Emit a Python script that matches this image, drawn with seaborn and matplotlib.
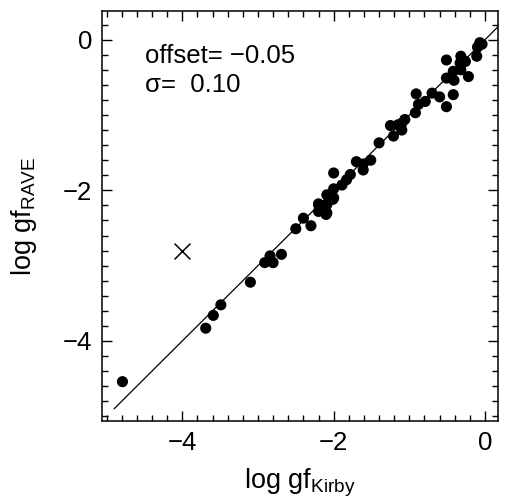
import numpy as np
import pandas as pd
import matplotlib
matplotlib.use("Agg")
import matplotlib.pyplot as plt
import seaborn as sns
from matplotlib.ticker import MultipleLocator

# log gf values
log_gf_kirby = [-0.07, -0.04, -0.10, -0.51, -0.32, -0.26, -0.33, -0.11, -0.42, -0.32,
                -0.51, -0.41, -0.22, -0.42, -0.51, -0.70, -0.60, -0.91, -0.79, -0.88,
                -0.92, -1.06, -1.10, -1.15, -1.25, -1.10, -1.21, -1.40, -1.51, -1.61,
                -1.61, -1.70, -2.00, -1.78, -1.83, -1.89, -2.00, -2.00, -2.09, -2.20,
                -2.18, -2.09, -2.40, -2.20, -2.09, -2.20, -2.10, -2.01, -2.50, -2.30,
                -2.84, -2.91, -2.80, -2.69, -3.10, -3.49, -3.59, -3.69, -4.79]
log_gf_rave = [-0.04, -0.06, -0.10, -0.27, -0.22, -0.29, -0.31, -0.22, -0.42, -0.40,
               -0.51, -0.54, -0.49, -0.73, -0.89, -0.71, -0.76, -0.72, -0.82, -0.86,
               -0.97, -1.06, -1.11, -1.13, -1.14, -1.20, -1.28, -1.37, -1.60, -1.65,
               -1.73, -1.62, -1.77, -1.79, -1.86, -1.93, -1.98, -2.10, -2.06, -2.18,
               -2.24, -2.30, -2.37, -2.19, -2.19, -2.28, -2.32, -2.12, -2.51, -2.47,
               -2.87, -2.96, -2.96, -2.85, -3.22, -3.52, -3.66, -3.83, -4.54]

# rejected line
reject_kirby = [-4.00]
reject_rave = [-2.80]

offset = -0.05
sigma = 0.10

sns.set_style("ticks")
plt.rcParams["font.family"] = ["Liberation Sans", "DejaVu Sans"]
plt.rcParams["mathtext.fontset"] = "custom"
plt.rcParams["mathtext.rm"] = "Liberation Sans"
plt.rcParams["xtick.direction"] = "in"
plt.rcParams["ytick.direction"] = "in"
for key in ["text.color", "axes.labelcolor", "xtick.color", "ytick.color",
            "xtick.labelcolor", "ytick.labelcolor"]:
    plt.rcParams[key] = "black"

fs = 18.5

df = pd.DataFrame({"kirby": log_gf_kirby, "rave": log_gf_rave})

fig = plt.figure(figsize=(5.05, 5.01), dpi=100)
ax = fig.add_axes([0.202, 0.160, 0.784, 0.818])

one_to_one = np.array([-4.9, 0.4])
ax.plot(one_to_one, one_to_one, color="black", lw=0.9, zorder=1)

sns.scatterplot(data=df, x="kirby", y="rave", ax=ax, color="black", s=64,
                edgecolor="none", zorder=3)
ax.scatter(reject_kirby, reject_rave, marker="x", s=130, color="black",
           linewidths=1.1, zorder=3)

ax.set_xlim(-5.06, 0.17)
ax.set_ylim(-5.06, 0.38)
ax.xaxis.set_major_locator(MultipleLocator(2))
ax.xaxis.set_minor_locator(MultipleLocator(0.2))
ax.yaxis.set_major_locator(MultipleLocator(2))
ax.yaxis.set_minor_locator(MultipleLocator(0.2))
ax.tick_params(which="both", direction="in", top=True, right=True,
               width=1, color="black")
ax.tick_params(which="major", length=7.5, labelsize=fs, pad=7)
ax.tick_params(which="minor", length=4)
for sp in ax.spines.values():
    sp.set_linewidth(1.1)
    sp.set_color("black")

ax.set_xlabel(r"log gf$_{\mathregular{Kirby}}$", fontsize=fs + 1, labelpad=9)
ax.set_ylabel(r"log gf$_{\mathregular{RAVE}}$", fontsize=fs + 1, labelpad=17)

ax.text(0.109, 0.873, "offset= \u22120.05", transform=ax.transAxes,
        fontsize=fs, va="baseline", ha="left")
ax.text(0.109, 0.802, "\u03c3=  0.10", transform=ax.transAxes,
        fontsize=fs, va="baseline", ha="left")

fig.savefig("out.png", dpi=100)
